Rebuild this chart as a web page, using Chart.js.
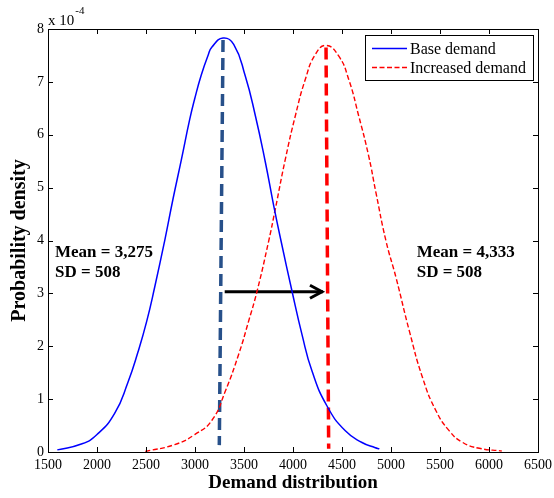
<!DOCTYPE html>
<html>
<head>
<meta charset="utf-8">
<script src="https://cdn.jsdelivr.net/npm/chart.js@4.4.1/dist/chart.umd.min.js"></script>
<style>
  html, body { margin: 0; padding: 0; background: #fff; }
  canvas { display: block; }
</style>
</head>
<body>
<canvas id="c" width="554" height="498"></canvas>
<script>
// Demand values and probability densities (density in units of 1e-4)
const baseX = [1595, 1840, 2000, 2180, 2316, 2418, 2507, 2589, 2690, 2775, 2860, 2946, 2997, 3064, 3133, 3173, 3286, 3395, 3513, 3616, 3718, 3803, 3878, 3990, 4092, 4194, 4347, 4534, 4704, 4840, 4881];
const baseY = [0.04, 0.15, 0.33, 0.73, 1.32, 1.89, 2.47, 3.12, 3.99, 4.78, 5.52, 6.29, 6.68, 7.13, 7.50, 7.66, 7.83, 7.71, 7.11, 6.36, 5.48, 4.66, 3.99, 3.04, 2.22, 1.53, 0.87, 0.40, 0.18, 0.08, 0.06];

const incX = [2493, 2793, 2997, 3173, 3309, 3446, 3548, 3633, 3752, 3820, 3922, 4024, 4126, 4228, 4337, 4466, 4568, 4670, 4772, 4849, 4949, 5051, 5187, 5323, 5459, 5595, 5732, 5901, 6130];
const incY = [0.01, 0.14, 0.33, 0.60, 1.15, 1.85, 2.48, 3.04, 3.99, 4.60, 5.54, 6.36, 7.05, 7.52, 7.69, 7.49, 7.05, 6.36, 5.60, 4.88, 3.99, 3.30, 2.29, 1.40, 0.78, 0.40, 0.18, 0.07, 0.02];

// Mean markers and the shift arrow
const baseMeanX = [3286, 3248];
const baseMeanY = [7.79, 0.13];
const incMeanX = [4337, 4364];
const incMeanY = [7.65, 0.06];
const shiftX = [3303, 4306];
const shiftY = [3.03, 3.03];

// Axis tick labels
const xTickValues = [1500, 2000, 2500, 3000, 3500, 4000, 4500, 5000, 5500, 6000, 6500];
const yTickValues = [0, 1, 2, 3, 4, 5, 6, 7, 8];

// Summary statistics printed beside each curve
const statLines = [
  { text: 'Mean = 3,275', x: 1571, y: 3.78 },
  { text: 'SD = 508',     x: 1571, y: 3.40 },
  { text: 'Mean = 4,333', x: 5262, y: 3.78 },
  { text: 'SD = 508',     x: 5262, y: 3.40 }
];

const pts = (xs, ys) => xs.map((v, i) => ({ x: v, y: ys[i] }));
const SERIF = '"Liberation Serif", "Times New Roman", serif';

const matlabFrame = {
  id: 'matlabFrame',
  afterDatasetsDraw(chart) {
    const { ctx, chartArea: a, scales: { x, y } } = chart;
    ctx.save();

    // statistics text
    ctx.fillStyle = '#000';
    ctx.font = 'bold 17px ' + SERIF;
    ctx.textBaseline = 'middle';
    ctx.textAlign = 'left';
    statLines.forEach(s => ctx.fillText(s.text, x.getPixelForValue(s.x), y.getPixelForValue(s.y)));

    // arrow head at the end of the shift line
    const tipX = x.getPixelForValue(shiftX[1]);
    const tipY = y.getPixelForValue(shiftY[1]);
    ctx.strokeStyle = '#000';
    ctx.lineWidth = 3;
    ctx.lineCap = 'butt';
    ctx.lineJoin = 'miter';
    ctx.beginPath();
    ctx.moveTo(tipX - 13, tipY - 6.5);
    ctx.lineTo(tipX - 1, tipY);
    ctx.lineTo(tipX - 13, tipY + 6.5);
    ctx.stroke();

    // axes box with inward ticks on all four sides
    ctx.lineWidth = 1;
    ctx.strokeStyle = '#000';
    ctx.strokeRect(a.left + 0.5, a.top + 0.5, a.right - a.left, a.bottom - a.top);
    const tl = 5;
    ctx.beginPath();
    xTickValues.forEach(v => {
      const px = Math.round(x.getPixelForValue(v)) + 0.5;
      ctx.moveTo(px, a.bottom); ctx.lineTo(px, a.bottom - tl);
      ctx.moveTo(px, a.top); ctx.lineTo(px, a.top + tl);
    });
    yTickValues.forEach(v => {
      const py = Math.round(y.getPixelForValue(v)) + 0.5;
      ctx.moveTo(a.left, py); ctx.lineTo(a.left + tl, py);
      ctx.moveTo(a.right, py); ctx.lineTo(a.right - tl, py);
    });
    ctx.stroke();

    // exponent label above the y axis
    ctx.fillStyle = '#000';
    ctx.textBaseline = 'alphabetic';
    ctx.font = '15px ' + SERIF;
    ctx.fillText('x 10', a.left, a.top - 4);
    const w = ctx.measureText('x 10').width;
    ctx.font = '11px ' + SERIF;
    ctx.fillText('-4', a.left + w + 1, a.top - 15);

    // legend box
    const lx = a.right - 173, ly = a.top + 6, lw = 168, lh = 45;
    ctx.fillStyle = '#fff';
    ctx.fillRect(lx, ly, lw, lh);
    ctx.strokeStyle = '#000';
    ctx.lineWidth = 1;
    ctx.strokeRect(lx + 0.5, ly + 0.5, lw, lh);
    const items = [chart.data.datasets[0], chart.data.datasets[1]];
    const rowY = [ly + 13.5, ly + 32.5];
    items.forEach((ds, i) => {
      ctx.strokeStyle = ds.borderColor;
      ctx.lineWidth = ds.borderWidth;
      ctx.setLineDash(ds.borderDash || []);
      ctx.beginPath();
      ctx.moveTo(lx + 7, rowY[i]);
      ctx.lineTo(lx + 42, rowY[i]);
      ctx.stroke();
      ctx.setLineDash([]);
      ctx.fillStyle = '#000';
      ctx.font = '16px ' + SERIF;
      ctx.textBaseline = 'middle';
      ctx.fillText(ds.label, lx + 45, rowY[i] + 1);
    });
    ctx.restore();
  }
};

new Chart(document.getElementById('c'), {
  type: 'scatter',
  data: {
    datasets: [
      { label: 'Base demand', data: pts(baseX, baseY), showLine: true, borderColor: '#0000ff', borderWidth: 1.5, pointRadius: 0, tension: 0.5 },
      { label: 'Increased demand', data: pts(incX, incY), showLine: true, borderColor: '#ff0000', borderWidth: 1.4, borderDash: [5, 2.5], pointRadius: 0, tension: 0.5 },
      { label: 'Base mean', data: pts(baseMeanX, baseMeanY), showLine: true, borderColor: '#27508a', borderWidth: 3.5, borderDash: [12, 6], pointRadius: 0 },
      { label: 'Increased mean', data: pts(incMeanX, incMeanY), showLine: true, borderColor: '#ff0000', borderWidth: 3.5, borderDash: [12, 6], pointRadius: 0 },
      { label: 'Shift', data: pts(shiftX, shiftY), showLine: true, borderColor: '#000', borderWidth: 3, pointRadius: 0 }
    ]
  },
  options: {
    responsive: false,
    animation: false,
    devicePixelRatio: 1,
    layout: { padding: { top: 29, right: 16, left: 0, bottom: 0 } },
    plugins: { legend: { display: false }, tooltip: { enabled: false } },
    scales: {
      x: {
        type: 'linear', min: 1500, max: 6500,
        afterBuildTicks: s => { s.ticks = xTickValues.map(v => ({ value: v })); },
        afterFit: s => { s.height = 46; s.paddingLeft = 0; s.paddingRight = 0; },
        grid: { display: false, drawTicks: false },
        border: { display: false },
        ticks: { color: '#000', font: { family: SERIF, size: 14 }, padding: 5, maxRotation: 0, autoSkip: false, callback: v => String(v) },
        title: { display: true, text: 'Demand distribution', color: '#000', font: { family: SERIF, size: 19, weight: 'bold' }, padding: { top: 0, bottom: 4 } }
      },
      y: {
        type: 'linear', min: 0, max: 8,
        afterBuildTicks: s => { s.ticks = yTickValues.map(v => ({ value: v })); },
        afterFit: s => { s.width = 48; s.paddingTop = 0; s.paddingBottom = 0; },
        grid: { display: false, drawTicks: false },
        border: { display: false },
        ticks: { color: '#000', font: { family: SERIF, size: 14 }, padding: 4, autoSkip: false, callback: v => String(v) },
        title: { display: true, text: 'Probability density', color: '#000', font: { family: SERIF, size: 20, weight: 'bold' }, padding: { top: 8, bottom: 0 } }
      }
    }
  },
  plugins: [matlabFrame]
});
</script>
</body>
</html>
